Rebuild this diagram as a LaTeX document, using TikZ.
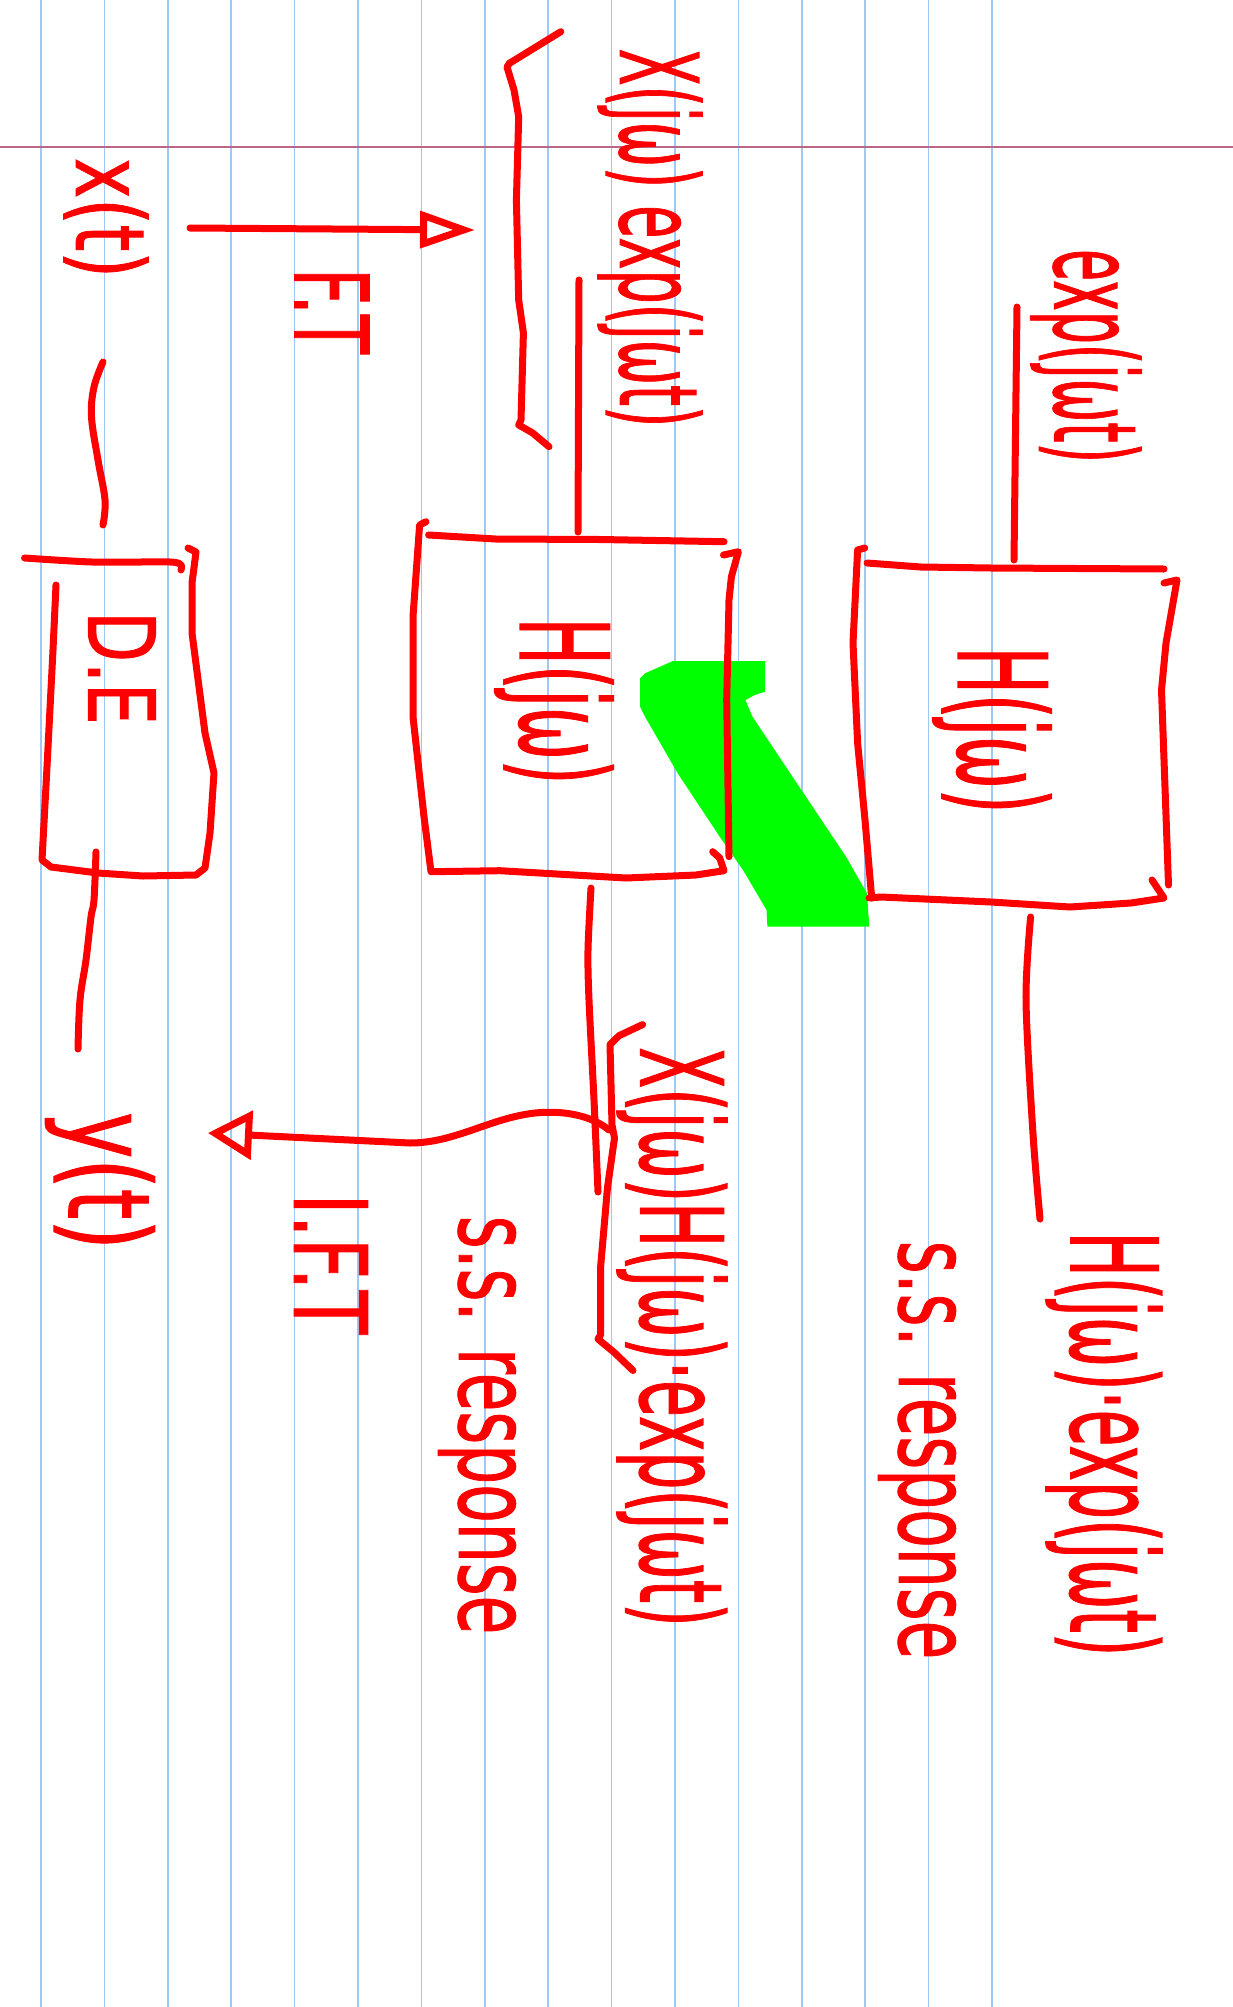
\documentclass[tikz,border=0pt]{standalone}
\usepackage{fontspec}
\setmainfont{DejaVu Sans}
\newfontfamily\hwfont{DejaVu Sans}[FakeBold=1.2]
\usetikzlibrary{arrows.meta}
\definecolor{pen}{RGB}{255,0,0}
\definecolor{rulecol}{RGB}{160,200,245}
\definecolor{margincol}{RGB}{185,105,135}
\definecolor{hl}{RGB}{0,255,0}
\newcommand{\hw}[3]{\hwfont\fontsize{#1}{#1}\selectfont\scalebox{1}[#2]{#3}}
\begin{document}
\begin{tikzpicture}[x=1pt,y=-1pt,
  ink/.style={draw=pen,line width=7pt,line cap=round,line join=round},
  lbl/.style={text=pen,inner sep=0pt,rotate=-90,anchor=center}]
\fill[white] (0,0) rectangle (1233,2007);
\useasboundingbox (0,0) rectangle (1233,2007);
% notebook paper
\foreach \i in {0,...,15} \draw[rulecol,line width=1.6pt] ({41+63.4*\i},0) -- ({41+63.4*\i},2007);
\draw[margincol,line width=2pt] (0,147) -- (1233,147);
% highlighter
\fill[hl] (673,661) -- (765,661) -- (765,691.7) -- (754.8,695) -- (745.4,700) -- (752.5,716.7)
  -- (799.2,786.7) -- (846,856.7) -- (867,893.3) -- (869.3,926.7) -- (767.4,926.7) -- (766.5,910)
  -- (743,870) -- (719.7,836.7) -- (677.7,773.3) -- (645,716.7) -- (640,706.7) -- (640,678.3)
  -- (645,673.3) -- cycle;
% labels
\node[lbl] (xt) at (106,218) {\hw{68}{1.4}{x(t)}};
\node[lbl] (ft) at (332,311) {\hw{64}{1.6}{F.T}};
\node[lbl] (Xin) at (650,238) {\hw{54}{2.0}{X(jω) exp(jωt)}};
\node[lbl] (de) at (122,668) {\hw{66}{1.4}{D.E}};
\node[lbl] (h1) at (554,701) {\hw{63}{1.95}{H(jω)}};
\node[lbl] (h2) at (992,730) {\hw{63}{1.95}{H(jω)}};
\node[lbl] (ein) at (1086,356) {\hw{52}{2.2}{exp(jωt)}};
\node[lbl] (out1) at (672,1337) {\hw{60}{1.9}{X(jω)H(jω)·exp(jωt)}};
\node[lbl] (out2) at (1104,1444) {\hw{60}{2.0}{H(jω)·exp(jωt)}};
\node[lbl] (ss1) at (477,1425) {\hw{63}{1.6}{s.s. response}};
\node[lbl] (ss2) at (917,1450) {\hw{63}{1.6}{s.s. response}};
\node[lbl] (yt) at (100,1181) {\hw{78}{1.45}{y(t)}};
\node[lbl] (ift) at (331,1264) {\hw{72}{1.4}{I.F.T}};
% coordinates
\coordinate (a1s) at (190,228);
\coordinate (a1e) at (475,230);
\coordinate (a2s) at (609,1130);
\coordinate (a2e) at (208,1133);
% top bracket
\draw[ink] (560.8,31.7) -- (509.4,63.3) -- (507,67) -- (514,90) -- (518.7,116.7) -- (516.4,200)
  -- (518.7,300) -- (523.4,333) -- (521,420) -- (518.7,425) -- (532.7,433) -- (549,446.7);
% F.T arrow
\draw[ink,-{Triangle[open,length=55pt,width=36pt]}] (a1s) -- (a1e);
% line above box 1
\draw[ink] (579,280) -- (578,532);
% x(t) to D.E
\draw[ink] plot[smooth,tension=0.6] coordinates {(103,362) (94,387) (91.5,417) (98,460) (105,500) (103,525)};
% D.E box
\draw[ink] plot[smooth,tension=0.4] coordinates {(24.5,558) (92,562) (170,562) (181,565) (181,570)};
\draw[ink] (56,585) -- (53,650) -- (47,767) -- (42,860) -- (51,867) -- (98,873) -- (143,876)
  -- (196,875) -- (205,868) -- (210,833) -- (214,773) -- (205,733) -- (192,633) -- (192,583)
  -- (196,552) -- (188,548);
% below D.E
\draw[ink] plot[smooth,tension=0.6] coordinates {(96,852) (94,900) (91,917) (86,960) (80,1000) (78,1049)};
% box 1
\draw[ink] (426,521.7) -- (419.6,525) -- (413,616.7) -- (413,716.7) -- (424,816.7) -- (431,871.7)
  -- (500,870.7) -- (626,878) -- (696,875) -- (724,870.7) -- (719.7,858) -- (712.7,851.7);
\draw[ink] (428.6,535) -- (495.5,539) -- (600,539.5) -- (724,541.7);
\draw[ink] (723.5,555) -- (738.4,551.7) -- (731.4,576.7) -- (729,600) -- (726.7,700) -- (729,856.7);
% below box 1
\draw[ink] plot[smooth,tension=0.5] coordinates {(591,888) (588,950) (589,1000) (594,1100) (598,1192)};
% bottom bracket
\draw[ink] (642.6,1024.6) -- (619,1035.7) -- (610,1044.6) -- (612,1125) -- (614.5,1138)
  -- (607.5,1187.5) -- (600.5,1268) -- (600.5,1335) -- (598,1339) -- (614.5,1352.7) -- (633,1370.5);
% I.F.T arrow
\draw[ink,-{Triangle[open,length=44pt,width=48pt]}] (a2s) .. controls (592,1116) and (565,1110) .. (535,1113)
  .. controls (490,1118) and (455,1143) .. (410,1143) -- (a2e);
% line above box 2
\draw[ink] (1017,307) -- (1014,560);
% box 2
\draw[ink] (864.7,548) -- (857.6,550) -- (853,643) -- (857.6,743) -- (865,820) -- (871.7,898);
\draw[ink] (867,563) -- (920.8,567) -- (991,568) -- (1164,569);
\draw[ink] (1164,583) -- (1177,580) -- (1166,643) -- (1161.5,690) -- (1168.5,885);
\draw[ink] (869,898) -- (881,897) -- (991,902) -- (1070,907) -- (1131,903) -- (1164,898) -- (1152,880);
% below box 2
\draw[ink] plot[smooth,tension=0.5] coordinates {(1030.6,917) (1026,1000) (1033,1134) (1040,1219)};
\end{tikzpicture}
\end{document}
